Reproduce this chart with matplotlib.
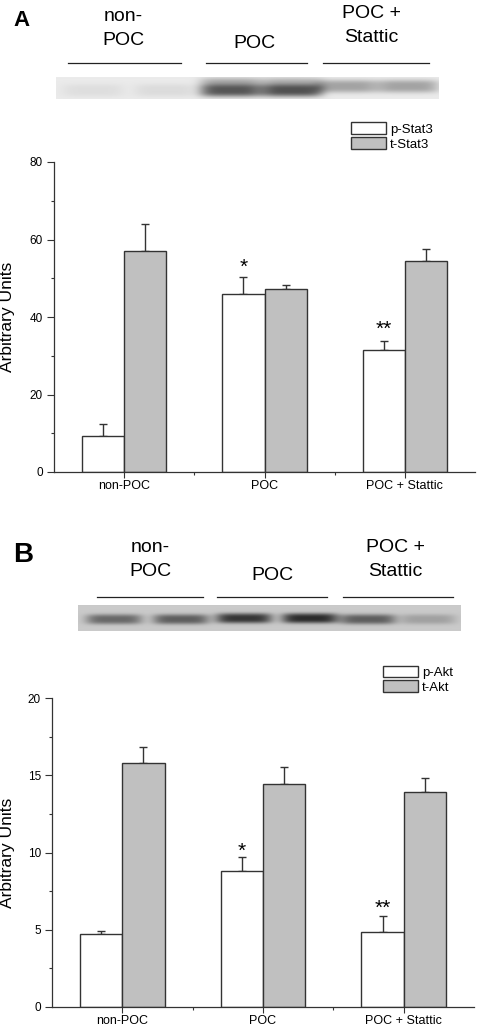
import numpy as np
import matplotlib
matplotlib.use("Agg")
import matplotlib.pyplot as plt
from matplotlib.patches import Patch
from matplotlib.lines import Line2D

plt.rcParams['font.family'] = ['Liberation Sans', 'DejaVu Sans']

W, H = 478, 1026

# ---- data ----
groups = ['non-POC', 'POC', 'POC + Stattic']

stat3_p = [9.3, 45.9, 31.6]
stat3_p_err = [3.1, 4.4, 2.2]
stat3_t = [57.1, 47.2, 54.5]
stat3_t_err = [7.0, 1.0, 3.0]

akt_p = [4.7, 8.8, 4.86]
akt_p_err = [0.23, 0.91, 1.04]
akt_t = [15.8, 14.44, 13.92]
akt_t_err = [1.02, 1.08, 0.89]

stars = ['', '*', '**']

# blot band darkness per lane (0 = none, 1 = black)
blot_a_bands = [0.05, 0.06, 0.58, 0.60, 0.28, 0.28]
blot_b_bands = [0.38, 0.42, 0.58, 0.62, 0.42, 0.16]


def fx(px):
    return px / W


def fy(py):
    return 1 - py / H


fig = plt.figure(figsize=(W / 100, H / 100), dpi=100)


def draw_blot(left, top, right, bottom, lane_x, lane_w, band_y, band_h, bands, bg, upper=None):
    ax = fig.add_axes([fx(left), fy(bottom), fx(right - left), (bottom - top) / H])
    nx, ny = int(right - left) * 2, int(bottom - top) * 2
    x = np.linspace(left, right, nx)
    y = np.linspace(top, bottom, ny)
    img = np.full((ny, nx), bg)
    for i, (cx, d) in enumerate(zip(lane_x, bands)):
        px = np.exp(-np.abs((x - cx) / (lane_w / 2)) ** 5)
        py = np.exp(-(np.abs(y - band_y[i]) / band_h) ** 3)
        img -= d * np.outer(py, px)
        if upper is not None and upper[i] > 0:
            py2 = np.exp(-((y - (band_y[i] - 9)) / 4) ** 2)
            img -= upper[i] * np.outer(py2, px)
    ax.imshow(np.clip(img, 0, 1), cmap='gray', vmin=0, vmax=1, aspect='auto',
              interpolation='bilinear')
    ax.set_axis_off()


def group_labels(centers, first, second, lines, line_y):
    for cx, t1, t2 in zip(centers, first, second):
        fig.text(fx(cx), fy(t1[1]), t1[0], ha='center', va='baseline', fontsize=14)
        if t2:
            fig.text(fx(cx), fy(t2[1]), t2[0], ha='center', va='baseline', fontsize=14)
    for x0, x1 in lines:
        fig.add_artist(Line2D([fx(x0), fx(x1)], [fy(line_y), fy(line_y)],
                              transform=fig.transFigure, color='#222222', lw=0.9))


def bar_panel(rect, p_vals, p_err, t_vals, t_err, ymax, ystep, labels, star_y, leg_box, lab_x):
    ax = fig.add_axes(rect)
    x = np.arange(len(groups)) + 0.5
    bw = 0.3
    ax.bar(x - bw / 2, p_vals, bw, color='white', edgecolor='#333333', linewidth=1.0, zorder=2)
    ax.bar(x + bw / 2, t_vals, bw, color='#c0c0c0', edgecolor='#333333', linewidth=1.0, zorder=2)
    ax.errorbar(x - bw / 2, p_vals, yerr=[np.zeros(3), p_err], fmt='none',
                ecolor='#333333', elinewidth=1.0, capsize=3, capthick=1.0, zorder=1)
    ax.errorbar(x + bw / 2, t_vals, yerr=[np.zeros(3), t_err], fmt='none',
                ecolor='#333333', elinewidth=1.0, capsize=3, capthick=1.0, zorder=1)
    for xi, s, sy in zip(x - bw / 2, stars, star_y):
        if s:
            ax.text(xi, sy, s, ha='center', va='baseline', fontsize=15)
    ax.set_xlim(0, 3)
    ax.set_ylim(0, ymax)
    ax.set_xticks(x)
    ax.set_xticklabels(groups, fontsize=9)
    ax.set_xticks([1, 2], minor=True)
    ax.set_yticks(np.arange(0, ymax + 0.01, ystep))
    ax.set_yticks(np.arange(ystep / 2, ymax, ystep), minor=True)
    ax.tick_params(axis='y', which='major', length=5, width=0.8, labelsize=8.5, pad=3, color='#333333')
    ax.tick_params(axis='y', which='minor', length=2.5, width=0.8, color='#333333')
    ax.tick_params(axis='x', which='major', length=4, width=0.8, pad=2, color='#333333')
    ax.tick_params(axis='x', which='minor', length=2.5, width=0.8, color='#333333')
    for sp in ['top', 'right']:
        ax.spines[sp].set_visible(False)
    for sp in ['left', 'bottom']:
        ax.spines[sp].set_linewidth(0.9)
        ax.spines[sp].set_color('#333333')
    ax.set_ylabel('Arbitrary Units', fontsize=12.5)
    ax.yaxis.set_label_coords(lab_x, 0.5)
    handles = [Patch(facecolor='white', edgecolor='#333333', lw=1.0),
               Patch(facecolor='#c0c0c0', edgecolor='#333333', lw=1.0)]
    ax.legend(handles, labels, loc='upper left', bbox_to_anchor=leg_box,
              bbox_transform=fig.transFigure, frameon=False, fontsize=9.5,
              handlelength=2.7, handleheight=0.95, handletextpad=0.3,
              labelspacing=0.12, borderpad=0, borderaxespad=0)
    return ax


# ---- panel A ----
fig.text(fx(13), fy(26.5), 'A', fontsize=16, fontweight='bold', ha='left', va='baseline')
group_labels([123, 254, 371],
             [('non-', 21), ('POC', 48), ('POC +', 18)],
             [('POC', 45), None, ('Stattic', 41.7)],
             [(68, 181), (206, 307), (323, 429)], 63)
draw_blot(56, 77, 439, 99.5, [93, 165, 231, 292, 347, 408], 62,
          [91, 91, 91, 91, 87, 87], 6.5, blot_a_bands, 0.92,
          upper=[0, 0, 0.22, 0.2, 0, 0])
bar_panel([fx(54), fy(472), fx(475) - fx(54), (472 - 162) / H],
          stat3_p, stat3_p_err, stat3_t, stat3_t_err, 80, 20,
          ['p-Stat3', 't-Stat3'], [None, 51.5, 35.3], (fx(350.5), fy(122.5)),
          (15.5 - 54) / 421)

# ---- panel B ----
fig.text(fx(13), fy(561.5), 'B', fontsize=20, fontweight='bold', ha='left', va='baseline')
group_labels([150, 272, 395],
             [('non-', 551.7), ('POC', 580), ('POC +', 551.7)],
             [('POC', 576), None, ('Stattic', 576)],
             [(97, 203), (217, 327), (343, 453)], 597)
draw_blot(78, 605, 461, 630.5, [114, 181, 244, 310, 368, 428], 56,
          [619, 619, 618, 618, 619, 619], 5.0, blot_b_bands, 0.79)
bar_panel([fx(52), fy(1006.7), fx(474) - fx(52), (1006.7 - 698.3) / H],
          akt_p, akt_p_err, akt_t, akt_t_err, 20, 5,
          ['p-Akt', 't-Akt'], [None, 9.75, 6.05], (fx(382.5), fy(665.5)),
          (15.5 - 52) / 422)

fig.savefig('out.png', dpi=100)
